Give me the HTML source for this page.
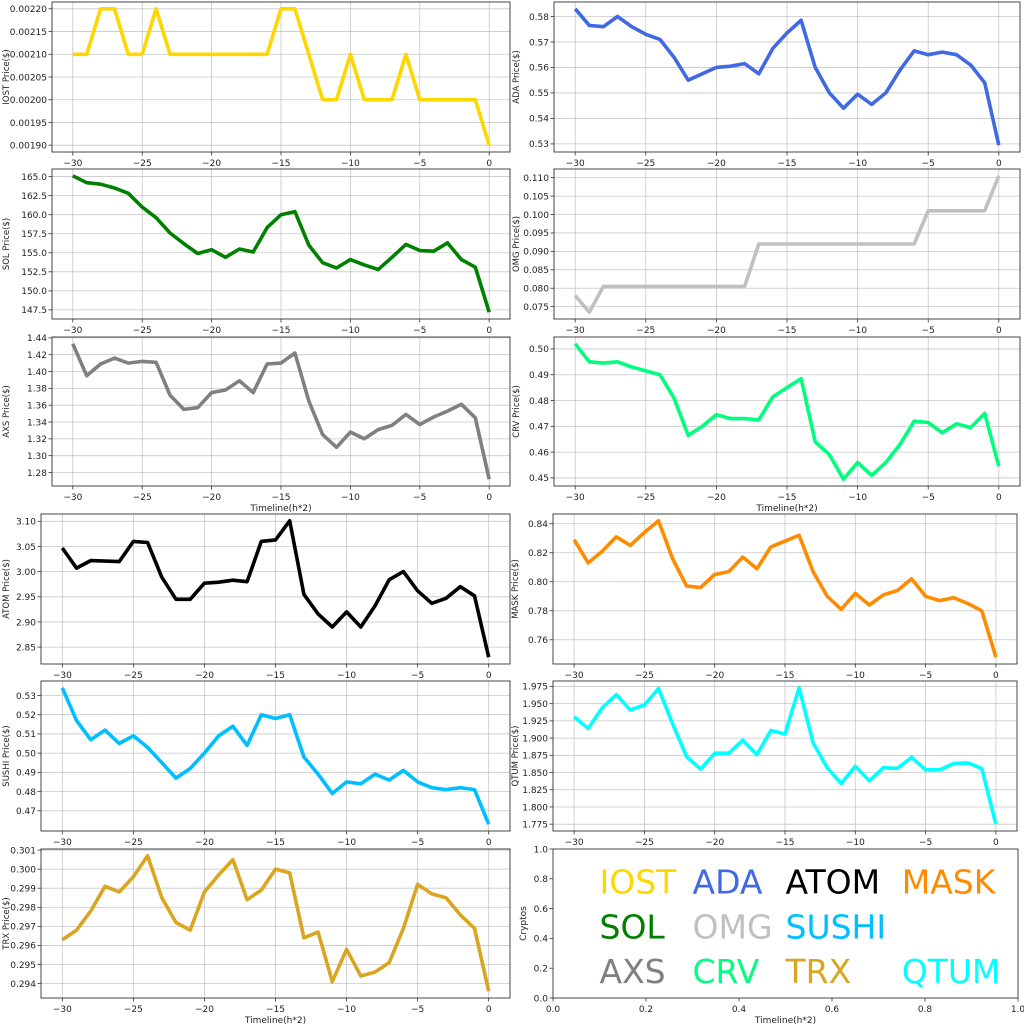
<!DOCTYPE html>
<html><head><meta charset="utf-8"><style>
html,body{margin:0;padding:0;background:#fff;width:1024px;height:1024px;overflow:hidden}
svg{display:block}
text{font-family:"DejaVu Sans","Liberation Sans",sans-serif;fill:#222}
</style></head><body>
<svg id="s" width="1024" height="1024" xmlns="http://www.w3.org/2000/svg"></svg>
<script>
const P=[
{n:'IOST',c:'#FFD700',b:[52,2,510,152],t:[0.0019,0.0022,0.00005],d:5,xl:0,
 v:[0.0021,0.0021,0.0022,0.0022,0.0021,0.0021,0.0022,0.0021,0.0021,0.0021,0.0021,0.0021,0.0021,0.0021,0.0021,0.0022,0.0022,0.0021,0.0020,0.0020,0.0021,0.0020,0.0020,0.0020,0.0021,0.0020,0.0020,0.0020,0.0020,0.0020,0.0019]},
{n:'ADA',c:'#4169E1',b:[554,2,1020,152],t:[0.53,0.58,0.01],d:2,xl:0,lab:'ADA  Price($)',
 v:[0.583,0.5765,0.576,0.580,0.576,0.573,0.571,0.564,0.555,0.5575,0.560,0.5605,0.5615,0.5575,0.5675,0.5735,0.5785,0.560,0.550,0.544,0.5495,0.5455,0.550,0.559,0.5665,0.565,0.566,0.565,0.561,0.554,0.5295]},
{n:'SOL',c:'#008000',b:[52,169,510,319],t:[147.5,165,2.5],d:1,xl:0,
 v:[165.1,164.2,164.0,163.5,162.8,161.0,159.6,157.6,156.2,154.9,155.4,154.4,155.5,155.1,158.3,160.0,160.4,156.0,153.7,153.0,154.1,153.4,152.8,154.4,156.1,155.3,155.2,156.3,154.1,153.1,147.2]},
{n:'OMG',c:'#C0C0C0',b:[554,169,1020,319],t:[0.075,0.110,0.005],d:3,xl:0,lab:'OMG  Price($)',
 v:[0.078,0.0735,0.0805,0.0805,0.0805,0.0805,0.0805,0.0805,0.0805,0.0805,0.0805,0.0805,0.0805,0.092,0.092,0.092,0.092,0.092,0.092,0.092,0.092,0.092,0.092,0.092,0.092,0.101,0.101,0.101,0.101,0.101,0.1105]},
{n:'AXS',c:'#808080',b:[52,337,510,486],t:[1.28,1.44,0.02],d:2,xl:1,
 v:[1.433,1.395,1.409,1.416,1.410,1.412,1.411,1.372,1.355,1.357,1.375,1.378,1.389,1.375,1.409,1.410,1.422,1.365,1.325,1.310,1.328,1.320,1.331,1.336,1.349,1.337,1.346,1.353,1.361,1.345,1.272]},
{n:'CRV',c:'#00FF7F',b:[554,337,1020,486],t:[0.45,0.50,0.01],d:2,xl:1,
 v:[0.502,0.495,0.4945,0.495,0.493,0.4915,0.490,0.481,0.4665,0.470,0.4745,0.473,0.473,0.4725,0.4815,0.485,0.4885,0.464,0.459,0.4495,0.456,0.451,0.456,0.463,0.472,0.4715,0.4675,0.471,0.4695,0.475,0.4545]},
{n:'ATOM',c:'#000000',b:[41,514,510,664],t:[2.85,3.10,0.05],d:2,xl:0,lab:'ATOM  Price($)',
 v:[3.047,3.007,3.022,3.021,3.020,3.060,3.058,2.989,2.945,2.945,2.977,2.979,2.983,2.980,3.060,3.063,3.101,2.955,2.916,2.890,2.920,2.890,2.932,2.984,3.000,2.962,2.937,2.947,2.970,2.952,2.830]},
{n:'MASK',c:'#FF8C00',b:[553,514,1017,664],t:[0.76,0.84,0.02],d:2,xl:0,lab:'MASK  Price($)',
 v:[0.829,0.813,0.821,0.831,0.825,0.834,0.842,0.816,0.797,0.796,0.805,0.807,0.817,0.809,0.824,0.828,0.832,0.807,0.790,0.781,0.792,0.784,0.791,0.794,0.802,0.790,0.787,0.789,0.785,0.780,0.748]},
{n:'SUSHI',c:'#00BFFF',b:[41,681,510,831],t:[0.47,0.53,0.01],d:2,xl:0,
 v:[0.534,0.517,0.507,0.512,0.505,0.509,0.503,0.495,0.487,0.492,0.500,0.509,0.514,0.504,0.520,0.518,0.520,0.498,0.489,0.479,0.485,0.484,0.489,0.486,0.491,0.485,0.482,0.481,0.482,0.481,0.463]},
{n:'QTUM',c:'#00FFFF',b:[553,681,1017,831],t:[1.775,1.975,0.025],d:3,xl:0,
 v:[1.931,1.914,1.944,1.963,1.941,1.948,1.972,1.921,1.873,1.855,1.878,1.878,1.897,1.876,1.911,1.906,1.973,1.893,1.857,1.834,1.859,1.838,1.857,1.856,1.872,1.854,1.854,1.863,1.864,1.856,1.775]},
{n:'TRX',c:'#DAA520',b:[41,849,510,998],t:[0.294,0.301,0.001],d:3,xl:1,
 v:[0.2963,0.2968,0.2978,0.2991,0.2988,0.2996,0.3007,0.2985,0.2972,0.2968,0.2988,0.2997,0.3005,0.2984,0.2989,0.3000,0.2998,0.2964,0.2967,0.2941,0.2958,0.2944,0.2946,0.2951,0.2969,0.2992,0.2987,0.2985,0.2976,0.2969,0.2936]}
];
let h='';
const minus='\u2212';
for(const p of P){
 const [x0,y0,x1,y1]=p.b;
 let mn=Math.min(...p.v),mx=Math.max(...p.v),r=mx-mn;mn-=r*0.05;mx+=r*0.05;
 const X=t=>x0+(t+31.5)/33*(x1-x0);
 const Y=v=>y1-(v-mn)/(mx-mn)*(y1-y0);
 for(let t=-30;t<=0;t+=5){const x=X(t);
  h+=`<line x1="${x}" y1="${y0}" x2="${x}" y2="${y1}" stroke="#b0b0b0" stroke-width="0.8" opacity="0.7"/>`;
  h+=`<line x1="${x}" y1="${y1}" x2="${x}" y2="${y1+3.5}" stroke="#333" stroke-width="0.8"/>`;
  h+=`<text x="${x}" y="${y1+14}" font-size="9" text-anchor="middle">${t<0?minus+(-t):t}</text>`;}
 const [a,b,s]=p.t;
 for(let v=a;v<=b+s/2;v+=s){if(v>mx||v<mn)continue;const y=Y(v);
  h+=`<line x1="${x0}" y1="${y}" x2="${x1}" y2="${y}" stroke="#b0b0b0" stroke-width="0.8" opacity="0.7"/>`;
  h+=`<line x1="${x0-3.5}" y1="${y}" x2="${x0}" y2="${y}" stroke="#333" stroke-width="0.8"/>`;
  h+=`<text x="${x0-5}" y="${y+3.3}" font-size="9" text-anchor="end">${v.toFixed(p.d)}</text>`;}
 h+=`<polyline fill="none" stroke="${p.c}" stroke-width="3.6" stroke-linejoin="round" points="${p.v.map((v,i)=>X(i-30).toFixed(1)+','+Y(v).toFixed(1)).join(' ')}"/>`;
 h+=`<rect x="${x0}" y="${y0}" width="${x1-x0}" height="${y1-y0}" fill="none" stroke="#333" stroke-width="0.9"/>`;
 const lxx = x0<300 ? 6 : (x0-38);
 h+=`<text transform="translate(${lxx+3},${(y0+y1)/2}) rotate(-90)" font-size="8.5" text-anchor="middle">${p.lab||p.n+' Price($)'}</text>`;
 if(p.xl) h+=`<text x="${(x0+x1)/2}" y="${y1+25}" font-size="9" text-anchor="middle">Timeline(h*2)</text>`;
}
{const x0=553,y0=849,x1=1018,y1=998;
 const X=t=>x0+t*(x1-x0),Y=v=>y1-v*(y1-y0);
 for(let i=0;i<=5;i++){const t=i/5;
  h+=`<line x1="${X(t)}" y1="${y1}" x2="${X(t)}" y2="${y1+3.5}" stroke="#333" stroke-width="0.8"/>`;
  h+=`<text x="${X(t)}" y="${y1+14}" font-size="9" text-anchor="middle">${t.toFixed(1)}</text>`;
  h+=`<line x1="${x0-3.5}" y1="${Y(t)}" x2="${x0}" y2="${Y(t)}" stroke="#333" stroke-width="0.8"/>`;
  h+=`<text x="${x0-5}" y="${Y(t)+3.3}" font-size="9" text-anchor="end">${t.toFixed(1)}</text>`;}
 h+=`<rect x="${x0}" y="${y0}" width="${x1-x0}" height="${y1-y0}" fill="none" stroke="#333" stroke-width="0.9"/>`;
 h+=`<text transform="translate(${x0-27},${(y0+y1)/2}) rotate(-90)" font-size="9" text-anchor="middle">Cryptos</text>`;
 h+=`<text x="${(x0+x1)/2}" y="${y1+25}" font-size="9" text-anchor="middle">Timeline(h*2)</text>`;
 const L=[['IOST','#FFD700',0.1,0.7],['ADA','#4169E1',0.3,0.7],['ATOM','#000000',0.5,0.7],['MASK','#FF8C00',0.75,0.7],
 ['SOL','#008000',0.1,0.4],['OMG','#C0C0C0',0.3,0.4],['SUSHI','#00BFFF',0.5,0.4],
 ['AXS','#808080',0.1,0.1],['CRV','#00FF7F',0.3,0.1],['TRX','#DAA520',0.5,0.1],['QTUM','#00FFFF',0.75,0.1]];
 for(const [t,c,x,y] of L) h+=`<text x="${X(x)}" y="${Y(y)}" font-size="33" style="fill:${c}">${t}</text>`;
}
document.getElementById('s').innerHTML=h;
</script>
</body></html>
